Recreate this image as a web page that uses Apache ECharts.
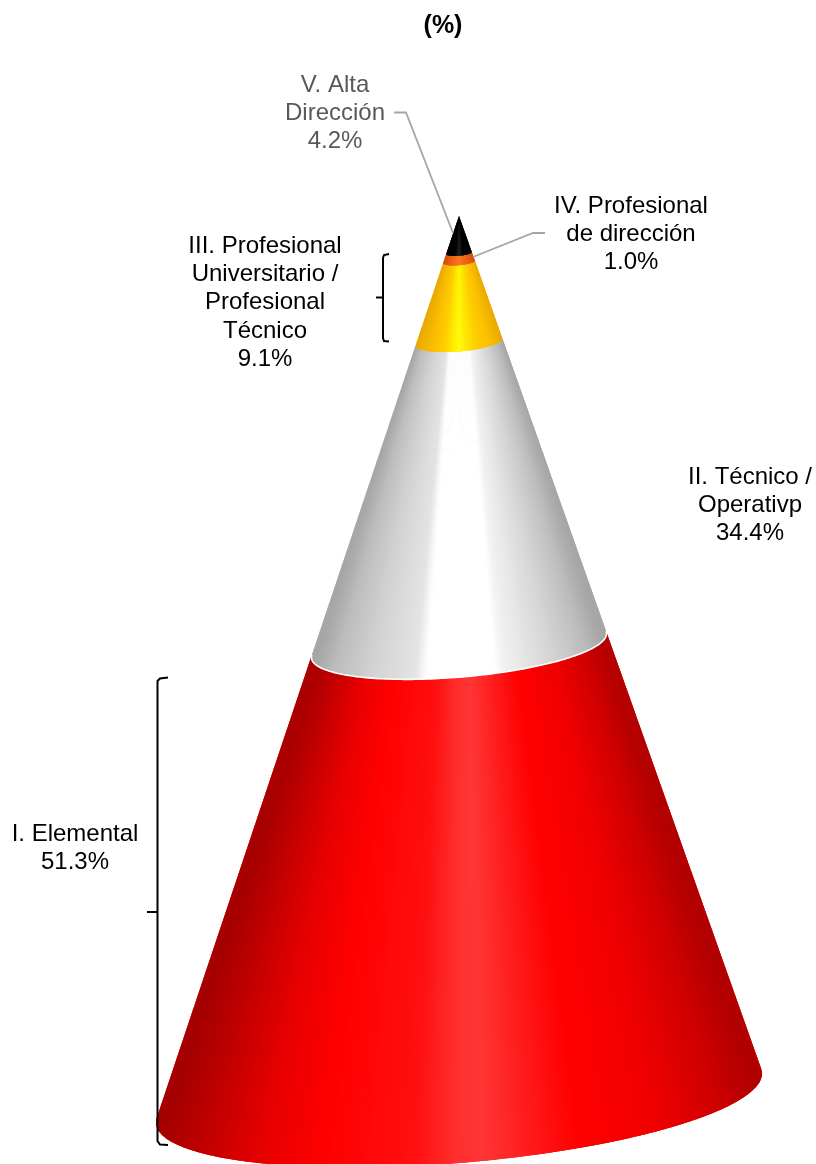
<!DOCTYPE html>
<html>
<head>
<meta charset="utf-8">
<style>html,body{margin:0;padding:0;background:#fff;overflow:hidden}#c{width:816px;height:1164px}</style>
<script src="https://cdn.jsdelivr.net/npm/echarts@6/dist/echarts.min.js"></script>
</head>
<body>
<div id="c"></div>
<script>
// ---- data ----
const titleText = '(%)';
const categories = ['I. Elemental', 'II. Técnico /\nOperativp', 'III. Profesional\nUniversitario /\nProfesional\nTécnico', 'IV. Profesional\nde dirección', 'V. Alta\nDirección'];
const values = [51.3, 34.4, 9.1, 1.0, 4.2];

// ---- styles ----
const bandStops = [
  [[-1,'#a00000'],[-.85,'#c00000'],[-.65,'#e80000'],[-.45,'#ff0000'],[-.15,'#ff1010'],[0,'#ff3030'],[.08,'#ff3535'],[.25,'#ff1818'],[.4,'#ff0000'],[.65,'#f00000'],[.85,'#d00000'],[1,'#ac0000']],
  [[-1,'#a0a0a0'],[-.85,'#bcbcbc'],[-.6,'#d2d2d2'],[-.3,'#e4e4e4'],[-.23,'#fcfcfc'],[-.2,'#ffffff'],[.24,'#ffffff'],[.3,'#f2f2f2'],[.6,'#d8d8d8'],[.85,'#bcbcbc'],[1,'#a0a0a0']],
  [[-1,'#e8a800'],[-.6,'#fcc000'],[-.35,'#ffd000'],[-.15,'#ffee00'],[0,'#ffff10'],[.15,'#ffee00'],[.4,'#ffd000'],[.7,'#fcc000'],[1,'#e8a800']],
  [[-1,'#d05010'],[-.4,'#f06a18'],[0,'#ff7a28'],[.4,'#f06a18'],[1,'#d05010']],
  [[-1,'#000000'],[-.3,'#0a0a0a'],[0,'#2a2a2a'],[.3,'#0a0a0a'],[1,'#000000']]
];
const bandBase = ['#ff0000','#d0d0d0','#f8b800','#e86414','#000000'];
const labelColors = ['#000000','#000000','#000000','#000000','#595959'];
const labelAnchors = [[75,834],[750,477],[265,246],[631,206],[335,85]];
const lineH = 28.3, fontSize = 24;
const grid = {left:156, top:216, width:606, height:882};
const tiltY = 24.5 / 8.82;  // ellipse major-axis tilt, in y-axis units
const minorY = 65 / 8.82;   // ellipse minor semi-axis, in y-axis units
const slices = 240;

function hex(c){return [1,3,5].map(i=>parseInt(c.substr(i,2),16));}
function shade(stops,u){
  for(let i=1;i<stops.length;i++){
    if(u<=stops[i][0]){
      const a=stops[i-1],b=stops[i],t=(u-a[0])/(b[0]-a[0]);
      const ca=hex(a[1]),cb=hex(b[1]);
      return 'rgb('+ca.map((v,k)=>Math.round(v+(cb[k]-v)*t)).join(',')+')';
    }
  }
  return stops[stops.length-1][1];
}
// cumulative start/end of every band, from the values
let acc=0;
const bands = values.map(v=>{const r=[acc,acc+v];acc+=v;return r;});
// visible arc of a cone seen from slightly above: silhouette tangent angle
const edge = Math.asin(minorY/100);
function surf(api,level,th){
  const s=1-level/100;
  return api.coord([s*Math.cos(th), level + s*(tiltY*Math.cos(th) - minorY*Math.sin(th))]);
}
function renderBand(params,api){
  const a=api.value(0),b=api.value(1),idx=params.dataIndex,children=[];
  const t0=-edge,t1=Math.PI+edge,step=(t1-t0)/slices;
  // solid underlay so that thin slices near the tip do not fade into the page
  const base=[];
  for(let i=0;i<=slices;i+=4){base.push(surf(api,a,t0+i*step));}
  for(let i=slices;i>=0;i-=4){base.push(surf(api,b,t0+i*step));}
  children.push({type:'polygon',shape:{points:base},style:{fill:bandBase[idx]},silent:true});
  for(let i=0;i<slices;i++){
    const th=t0+i*step,th2=Math.min(th+step*1.6,t1),col=shade(bandStops[idx],Math.cos(th+step/2));
    const top=b>=100;
    const pts=[surf(api,a,th),surf(api,a,th2)];
    if(top){pts.push(surf(api,b,th));}
    else{pts.push(surf(api,b,th2),surf(api,b,th));}
    children.push({type:'polygon',shape:{points:pts},style:{fill:col},silent:true});
  }
  if(idx===1){ // white seam on the lower edge of this band
    const arc=[];
    for(let i=0;i<=slices;i+=2){arc.push(surf(api,a,t0+i*step));}
    children.push({type:'polyline',shape:{points:arc},style:{fill:null,stroke:'#ffffff',lineWidth:1.6},silent:true,z2:5});
  }
  return {type:'group',children};
}
function labelText(i){return categories[i]+'\n'+values[i].toFixed(1)+'%';}
const txt=[{type:'text',x:443,y:26,style:{text:titleText,font:'bold 25px "Liberation Sans",Arial,sans-serif',fill:'#000',align:'center',verticalAlign:'middle'}}];
categories.forEach((c,i)=>{
  labelText(i).split('\n').forEach((line,k)=>{
    txt.push({type:'text',x:labelAnchors[i][0],y:labelAnchors[i][1]+k*lineH,style:{text:line,font:fontSize+'px "Liberation Sans",Arial,sans-serif',fill:labelColors[i],align:'center',verticalAlign:'middle'}});
  });
});
const leader={stroke:'#a6a6a6',lineWidth:1.8,fill:null};
const bracket={stroke:'#000000',lineWidth:2,fill:null};
const lines=[
  {type:'polyline',z:10,shape:{points:[[394,112.5],[406,112.5],[453,233]]},style:leader},
  {type:'polyline',z:10,shape:{points:[[545,233],[533,233],[473,257]]},style:leader},
  {type:'polyline',z:10,shape:{points:[[389,254],[384,255],[383,258],[383,338],[384,341],[389,341.5]]},style:bracket},
  {type:'line',z:10,shape:{x1:376,y1:297.5,x2:383,y2:297.5},style:bracket},
  {type:'polyline',z:10,shape:{points:[[168,677.5],[160,678.5],[157.5,681],[157.5,1141],[160,1144.5],[168,1145]]},style:bracket},
  {type:'line',z:10,shape:{x1:147,y1:912,x2:157.5,y2:912},style:bracket}
];
const chart=echarts.init(document.getElementById('c'),null,{renderer:'canvas'});
chart.setOption({
  animation:false,
  backgroundColor:'#ffffff',
  grid:grid,
  xAxis:{type:'value',min:-1,max:1,show:false},
  yAxis:{type:'value',min:0,max:100,show:false},
  series:[{type:'custom',clip:false,silent:true,renderItem:renderBand,data:bands,encode:{x:[],y:[0,1]}}],
  graphic:lines.concat(txt)
});
</script>
</body>
</html>
